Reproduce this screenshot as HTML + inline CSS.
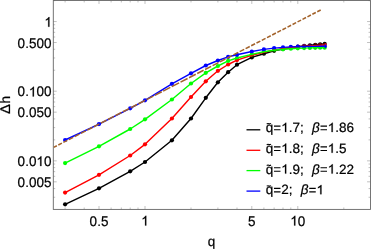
<!DOCTYPE html>
<html><head><meta charset="utf-8"><title>plot</title>
<style>
html,body{margin:0;padding:0;background:#fff;}
body{width:371px;height:250px;overflow:hidden;}
svg{display:block;will-change:transform;}
text{font-family:"Liberation Sans",sans-serif;font-size:13.5px;fill:#000;stroke:#000;stroke-width:0.22px;text-rendering:geometricPrecision;}
.it{font-style:italic;}
</style></head><body>
<svg width="371" height="250" viewBox="0 0 371 250">
<defs><path id="eq" d="M0.05 0.13H0.532V0.216H0.05ZM0.05 0.392H0.532V0.478H0.05Z"/><path id="one" stroke="#000" stroke-width="0.016" d="M0.3726 0L0.2822 0L0.2822 0.560Q0.253 0.530 0.2014 0.4995T0.109 0.454L0.109 0.539Q0.1855 0.575 0.2429 0.6265T0.3242 0.7197L0.3726 0.7197Z"/></defs>
<rect x="0" y="0" width="371" height="250" fill="#ffffff"/>
<g stroke="#979797" stroke-width="0.6" fill="none"><path d="M65.10 209.4v-1.9M65.10 0.55v1.9"/><path d="M84.19 209.4v-1.9M84.19 0.55v1.9"/><path d="M99.00 209.4v-3.4M99.00 0.55v3.4"/><path d="M111.10 209.4v-1.9M111.10 0.55v1.9"/><path d="M121.33 209.4v-1.9M121.33 0.55v1.9"/><path d="M130.19 209.4v-1.9M130.19 0.55v1.9"/><path d="M138.01 209.4v-1.9M138.01 0.55v1.9"/><path d="M145.00 209.4v-3.4M145.00 0.55v3.4"/><path d="M191.00 209.4v-1.9M191.00 0.55v1.9"/><path d="M217.90 209.4v-1.9M217.90 0.55v1.9"/><path d="M236.99 209.4v-1.9M236.99 0.55v1.9"/><path d="M251.80 209.4v-3.4M251.80 0.55v3.4"/><path d="M263.90 209.4v-1.9M263.90 0.55v1.9"/><path d="M274.13 209.4v-1.9M274.13 0.55v1.9"/><path d="M282.99 209.4v-1.9M282.99 0.55v1.9"/><path d="M290.81 209.4v-1.9M290.81 0.55v1.9"/><path d="M297.80 209.4v-3.4M297.80 0.55v3.4"/><path d="M343.80 209.4v-1.9M343.80 0.55v1.9"/><path d="M53.3 197.27h1.9M370.45 197.27h-1.9"/><path d="M53.3 188.57h1.9M370.45 188.57h-1.9"/><path d="M53.3 181.82h3.4M370.45 181.82h-3.4"/><path d="M53.3 176.30h1.9M370.45 176.30h-1.9"/><path d="M53.3 171.64h1.9M370.45 171.64h-1.9"/><path d="M53.3 167.60h1.9M370.45 167.60h-1.9"/><path d="M53.3 164.04h1.9M370.45 164.04h-1.9"/><path d="M53.3 160.85h3.4M370.45 160.85h-3.4"/><path d="M53.3 139.88h1.9M370.45 139.88h-1.9"/><path d="M53.3 127.62h1.9M370.45 127.62h-1.9"/><path d="M53.3 118.92h1.9M370.45 118.92h-1.9"/><path d="M53.3 112.17h3.4M370.45 112.17h-3.4"/><path d="M53.3 106.65h1.9M370.45 106.65h-1.9"/><path d="M53.3 101.99h1.9M370.45 101.99h-1.9"/><path d="M53.3 97.95h1.9M370.45 97.95h-1.9"/><path d="M53.3 94.39h1.9M370.45 94.39h-1.9"/><path d="M53.3 91.20h3.4M370.45 91.20h-3.4"/><path d="M53.3 70.23h1.9M370.45 70.23h-1.9"/><path d="M53.3 57.97h1.9M370.45 57.97h-1.9"/><path d="M53.3 49.27h1.9M370.45 49.27h-1.9"/><path d="M53.3 42.52h3.4M370.45 42.52h-3.4"/><path d="M53.3 37.00h1.9M370.45 37.00h-1.9"/><path d="M53.3 32.34h1.9M370.45 32.34h-1.9"/><path d="M53.3 28.30h1.9M370.45 28.30h-1.9"/><path d="M53.3 24.74h1.9M370.45 24.74h-1.9"/><path d="M53.3 21.55h3.4M370.45 21.55h-3.4"/><path d="M53.3 0.58h1.9M370.45 0.58h-1.9"/><path d="M53.3 0.58h1.9M370.45 0.58h-1.9"/></g>
<rect x="53.3" y="0.55" width="317.15" height="208.85" fill="none" stroke="#666666" stroke-width="0.9"/>
<clipPath id="c"><rect x="53.3" y="0.55" width="317.15" height="208.85"/></clipPath>
<g clip-path="url(#c)">
<g fill="#000000"><circle cx="65.10" cy="204.30" r="2.1"/><circle cx="99.00" cy="188.30" r="2.1"/><circle cx="130.19" cy="171.30" r="2.1"/><circle cx="145.00" cy="162.00" r="2.1"/><circle cx="171.91" cy="140.30" r="2.1"/><circle cx="191.00" cy="118.50" r="2.1"/><circle cx="205.81" cy="97.80" r="2.1"/><circle cx="217.90" cy="82.30" r="2.1"/><circle cx="228.13" cy="72.20" r="2.1"/><circle cx="236.99" cy="64.70" r="2.1"/><circle cx="251.80" cy="57.40" r="2.1"/><circle cx="263.90" cy="53.70" r="2.1"/><circle cx="274.13" cy="50.80" r="2.1"/><circle cx="282.99" cy="49.00" r="2.1"/><circle cx="290.81" cy="47.70" r="2.1"/><circle cx="297.80" cy="46.70" r="2.1"/><circle cx="304.12" cy="45.90" r="2.1"/><circle cx="309.90" cy="45.30" r="2.1"/><circle cx="315.21" cy="44.80" r="2.1"/><circle cx="320.13" cy="44.30" r="2.1"/><circle cx="324.71" cy="43.90" r="2.1"/></g>
<g fill="#ff0000"><circle cx="65.10" cy="192.60" r="2.1"/><circle cx="99.00" cy="174.80" r="2.1"/><circle cx="130.19" cy="155.50" r="2.1"/><circle cx="145.00" cy="144.30" r="2.1"/><circle cx="171.91" cy="118.50" r="2.1"/><circle cx="191.00" cy="97.00" r="2.1"/><circle cx="205.81" cy="81.30" r="2.1"/><circle cx="217.90" cy="70.80" r="2.1"/><circle cx="228.13" cy="64.50" r="2.1"/><circle cx="236.99" cy="60.10" r="2.1"/><circle cx="251.80" cy="55.30" r="2.1"/><circle cx="263.90" cy="52.40" r="2.1"/><circle cx="274.13" cy="50.10" r="2.1"/><circle cx="282.99" cy="48.50" r="2.1"/><circle cx="290.81" cy="47.50" r="2.1"/><circle cx="297.80" cy="46.80" r="2.1"/><circle cx="304.12" cy="46.30" r="2.1"/><circle cx="309.90" cy="45.90" r="2.1"/><circle cx="315.21" cy="45.50" r="2.1"/><circle cx="320.13" cy="45.20" r="2.1"/><circle cx="324.71" cy="45.00" r="2.1"/></g>
<g fill="#00ff00"><circle cx="65.10" cy="163.10" r="2.1"/><circle cx="99.00" cy="146.30" r="2.1"/><circle cx="130.19" cy="129.00" r="2.1"/><circle cx="145.00" cy="119.30" r="2.1"/><circle cx="171.91" cy="99.50" r="2.1"/><circle cx="191.00" cy="83.50" r="2.1"/><circle cx="205.81" cy="72.80" r="2.1"/><circle cx="217.90" cy="66.00" r="2.1"/><circle cx="228.13" cy="60.90" r="2.1"/><circle cx="236.99" cy="58.00" r="2.1"/><circle cx="251.80" cy="54.40" r="2.1"/><circle cx="263.90" cy="51.80" r="2.1"/><circle cx="274.13" cy="50.20" r="2.1"/><circle cx="282.99" cy="49.30" r="2.1"/><circle cx="290.81" cy="48.70" r="2.1"/><circle cx="297.80" cy="48.30" r="2.1"/><circle cx="304.12" cy="48.10" r="2.1"/><circle cx="309.90" cy="47.90" r="2.1"/><circle cx="315.21" cy="47.80" r="2.1"/><circle cx="320.13" cy="47.70" r="2.1"/><circle cx="324.71" cy="47.70" r="2.1"/></g>
<g fill="#0000ff"><circle cx="65.10" cy="140.00" r="2.1"/><circle cx="99.00" cy="124.10" r="2.1"/><circle cx="130.19" cy="108.30" r="2.1"/><circle cx="145.00" cy="100.30" r="2.1"/><circle cx="171.91" cy="83.80" r="2.1"/><circle cx="191.00" cy="73.30" r="2.1"/><circle cx="205.81" cy="65.50" r="2.1"/><circle cx="217.90" cy="60.50" r="2.1"/><circle cx="228.13" cy="56.90" r="2.1"/><circle cx="236.99" cy="54.80" r="2.1"/><circle cx="251.80" cy="51.50" r="2.1"/><circle cx="263.90" cy="49.40" r="2.1"/><circle cx="274.13" cy="48.10" r="2.1"/><circle cx="282.99" cy="47.40" r="2.1"/><circle cx="290.81" cy="46.90" r="2.1"/><circle cx="297.80" cy="46.60" r="2.1"/><circle cx="304.12" cy="46.50" r="2.1"/><circle cx="309.90" cy="46.40" r="2.1"/><circle cx="315.21" cy="46.35" r="2.1"/><circle cx="320.13" cy="46.30" r="2.1"/><circle cx="324.71" cy="46.30" r="2.1"/></g>
<polyline points="65.10,204.30 99.00,188.30 130.19,171.30 145.00,162.00 171.91,140.30 191.00,118.50 205.81,97.80 217.90,82.30 228.13,72.20 236.99,64.70 251.80,57.40 263.90,53.70 274.13,50.80 282.99,49.00 290.81,47.70 297.80,46.70 304.12,45.90 309.90,45.30 315.21,44.80 320.13,44.30 324.71,43.90" fill="none" stroke="#000000" stroke-width="1.45" stroke-linejoin="round"/>
<polyline points="65.10,192.60 99.00,174.80 130.19,155.50 145.00,144.30 171.91,118.50 191.00,97.00 205.81,81.30 217.90,70.80 228.13,64.50 236.99,60.10 251.80,55.30 263.90,52.40 274.13,50.10 282.99,48.50 290.81,47.50 297.80,46.80 304.12,46.30 309.90,45.90 315.21,45.50 320.13,45.20 324.71,45.00" fill="none" stroke="#ff0000" stroke-width="1.45" stroke-linejoin="round"/>
<polyline points="65.10,163.10 99.00,146.30 130.19,129.00 145.00,119.30 171.91,99.50 191.00,83.50 205.81,72.80 217.90,66.00 228.13,60.90 236.99,58.00 251.80,54.40 263.90,51.80 274.13,50.20 282.99,49.30 290.81,48.70 297.80,48.30 304.12,48.10 309.90,47.90 315.21,47.80 320.13,47.70 324.71,47.70" fill="none" stroke="#00ff00" stroke-width="1.45" stroke-linejoin="round"/>
<polyline points="65.10,140.00 99.00,124.10 130.19,108.30 145.00,100.30 171.91,83.80 191.00,73.30 205.81,65.50 217.90,60.50 228.13,56.90 236.99,54.80 251.80,51.50 263.90,49.40 274.13,48.10 282.99,47.40 290.81,46.90 297.80,46.60 304.12,46.50 309.90,46.40 315.21,46.35 320.13,46.30 324.71,46.30" fill="none" stroke="#0000ff" stroke-width="1.45" stroke-linejoin="round"/>
<path d="M317.25 11.78L320.70 10.00M312.35 14.30L315.80 12.52M307.45 16.82L310.90 15.04M302.52 19.35L306.00 17.56M297.56 21.91L301.07 20.10M292.55 24.48L296.11 22.66M287.52 27.08L291.10 25.23M282.44 29.69L286.07 27.82M277.33 32.32L280.99 30.43M272.18 34.97L275.88 33.06M267.00 37.63L270.73 35.71M261.78 40.32L265.55 38.38M256.51 43.03L260.33 41.07M251.21 45.76L255.06 43.78M245.62 48.64L249.76 46.50M239.70 51.68L244.17 49.38M233.46 54.89L238.25 52.43M226.85 58.29L232.01 55.64M219.88 61.88L225.40 59.04M212.61 65.62L218.43 62.63M205.06 69.51L211.16 66.37M197.20 73.55L203.61 70.25M189.03 77.75L195.75 74.30M180.54 82.13L187.58 78.50M171.76 86.64L179.09 82.87M163.16 91.07L170.31 87.39M154.76 95.39L161.71 91.81M146.53 99.63L153.31 96.14M138.48 103.77L145.08 100.37M130.60 107.82L137.03 104.52M122.89 111.79L129.15 108.57M115.34 115.67L121.44 112.54M107.96 119.47L113.89 116.42M100.79 123.16L106.51 120.22M93.88 126.72L99.34 123.91M87.24 130.14L92.43 127.46M80.84 133.43L85.79 130.88M74.67 136.60L79.39 134.18M68.80 139.62L73.22 137.35M63.36 142.42L67.35 140.37M58.31 145.02L61.91 143.17M53.63 147.43L56.86 145.77M51.30 148.63L52.18 148.18" fill="none" stroke="#a3622a" stroke-width="1.55"/>
</g>
<use href="#one" transform="translate(44.39 26.75) scale(13.5 -13.500)"/>
<text transform="translate(17.62 47.72) scale(1 1.04)" xml:space="preserve">0.500</text>
<text transform="translate(17.62 96.40) scale(1 1.04)" xml:space="preserve">0.</text><use href="#one" transform="translate(28.88 96.40) scale(13.5 -13.500)"/><text transform="translate(36.39 96.40) scale(1 1.04)" xml:space="preserve">00</text>
<text transform="translate(17.62 117.37) scale(1 1.04)" xml:space="preserve">0.050</text>
<text transform="translate(17.62 166.05) scale(1 1.04)" xml:space="preserve">0.0</text><use href="#one" transform="translate(36.39 166.05) scale(13.5 -13.500)"/><text transform="translate(43.89 166.05) scale(1 1.04)" xml:space="preserve">0</text>
<text transform="translate(17.62 187.02) scale(1 1.04)" xml:space="preserve">0.005</text>
<text transform="translate(89.62 225.55) scale(1 1.04)" xml:space="preserve">0.5</text>
<use href="#one" transform="translate(141.25 225.55) scale(13.5 -13.500)"/>
<text transform="translate(248.05 225.55) scale(1 1.04)" xml:space="preserve">5</text>
<use href="#one" transform="translate(290.29 225.55) scale(13.5 -13.500)"/><text transform="translate(297.80 225.55) scale(1 1.04)" xml:space="preserve">0</text>
<text transform="translate(207.65 245.80) scale(1 1)" xml:space="preserve">q</text>
<text transform="translate(10.4 114.0) rotate(-90) scale(1.09 1.04)">Δ</text><text transform="translate(10.4 103.5) rotate(-90) scale(1 1.04)">h</text>
<line x1="246.5" y1="129.8" x2="260.3" y2="129.8" stroke="#000000" stroke-width="1.3"/>
<text transform="translate(265.80 132.05) scale(1 1)" xml:space="preserve">q</text><use href="#eq" transform="translate(273.31 132.05) scale(13.5 -13.500)"/><use href="#one" transform="translate(281.19 132.05) scale(13.5 -12.981)"/><text transform="translate(288.70 132.05) scale(1 1.0)" xml:space="preserve">.7</text><text transform="translate(299.96 132.05) scale(1 1)" xml:space="preserve">;  </text>
<path d="M266.7 123.95q1.05 -0.75 2.15 -0.25t2.15 -0.3" fill="none" stroke="#000" stroke-width="1.1"/>
<text class="it" transform="translate(312.11 132.05)">β</text>
<use href="#eq" transform="translate(319.83 132.05) scale(13.5 -13.500)"/><use href="#one" transform="translate(327.71 132.05) scale(13.5 -12.981)"/><text transform="translate(335.22 132.05) scale(1 1.0)" xml:space="preserve">.86</text>
<line x1="246.5" y1="150.3" x2="260.3" y2="150.3" stroke="#ff0000" stroke-width="1.3"/>
<text transform="translate(265.80 152.80) scale(1 1)" xml:space="preserve">q</text><use href="#eq" transform="translate(273.31 152.80) scale(13.5 -13.500)"/><use href="#one" transform="translate(281.19 152.80) scale(13.5 -12.981)"/><text transform="translate(288.70 152.80) scale(1 1.0)" xml:space="preserve">.8</text><text transform="translate(299.96 152.80) scale(1 1)" xml:space="preserve">;  </text>
<path d="M266.7 144.70q1.05 -0.75 2.15 -0.25t2.15 -0.3" fill="none" stroke="#000" stroke-width="1.1"/>
<text class="it" transform="translate(312.11 152.80)">β</text>
<use href="#eq" transform="translate(319.83 152.80) scale(13.5 -13.500)"/><use href="#one" transform="translate(327.71 152.80) scale(13.5 -12.981)"/><text transform="translate(335.22 152.80) scale(1 1.0)" xml:space="preserve">.5</text>
<line x1="246.5" y1="170.6" x2="260.3" y2="170.6" stroke="#00ff00" stroke-width="1.3"/>
<text transform="translate(265.80 173.60) scale(1 1)" xml:space="preserve">q</text><use href="#eq" transform="translate(273.31 173.60) scale(13.5 -13.500)"/><use href="#one" transform="translate(281.19 173.60) scale(13.5 -12.981)"/><text transform="translate(288.70 173.60) scale(1 1.0)" xml:space="preserve">.9</text><text transform="translate(299.96 173.60) scale(1 1)" xml:space="preserve">;  </text>
<path d="M266.7 165.50q1.05 -0.75 2.15 -0.25t2.15 -0.3" fill="none" stroke="#000" stroke-width="1.1"/>
<text class="it" transform="translate(312.11 173.60)">β</text>
<use href="#eq" transform="translate(319.83 173.60) scale(13.5 -13.500)"/><use href="#one" transform="translate(327.71 173.60) scale(13.5 -12.981)"/><text transform="translate(335.22 173.60) scale(1 1.0)" xml:space="preserve">.22</text>
<line x1="246.5" y1="191.1" x2="260.3" y2="191.1" stroke="#0000ff" stroke-width="1.3"/>
<text transform="translate(265.80 194.25) scale(1 1)" xml:space="preserve">q</text><use href="#eq" transform="translate(273.31 194.25) scale(13.5 -13.500)"/><text transform="translate(281.19 194.25) scale(1 1.0)" xml:space="preserve">2</text><text transform="translate(288.70 194.25) scale(1 1)" xml:space="preserve">;  </text>
<path d="M266.7 186.15q1.05 -0.75 2.15 -0.25t2.15 -0.3" fill="none" stroke="#000" stroke-width="1.1"/>
<text class="it" transform="translate(300.85 194.25)">β</text>
<use href="#eq" transform="translate(308.57 194.25) scale(13.5 -13.500)"/><use href="#one" transform="translate(316.45 194.25) scale(13.5 -12.981)"/>
</svg></body></html>
